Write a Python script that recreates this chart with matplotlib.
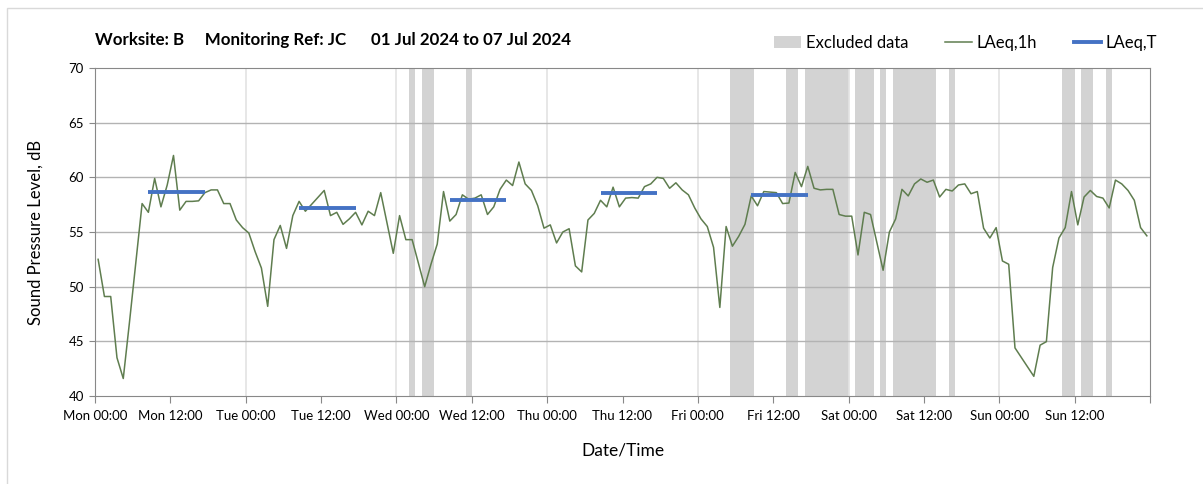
import matplotlib
matplotlib.use('Agg')
import matplotlib.pyplot as plt
from matplotlib.patches import Patch, Rectangle
from matplotlib.lines import Line2D

plt.rcParams['font.family'] = ['Lato', 'DejaVu Sans']

# hours from Mon 00:00, LAeq,1h values (dB)
hours = [0.5, 1.5, 2.5, 3.5, 4.5, 5.5, 7.5, 8.5, 9.5, 10.5, 11.5, 12.5, 13.5, 14.5, 15.5,
         16.5, 17.5, 18.5, 19.5, 20.5, 21.5, 22.5, 23.5, 24.5, 25.5, 26.5, 27.5, 28.5, 29.5,
         30.5, 31.5, 32.5, 33.5, 36.5, 37.5, 38.5, 39.5, 40.5, 41.5, 42.5, 43.5, 44.5, 45.5,
         47.5, 48.5, 49.5, 50.5, 52.5, 53.5, 54.5, 55.5, 56.5, 57.5, 58.5, 59.5, 60.5, 61.5,
         62.5, 63.5, 64.5, 65.5, 66.5, 67.5, 68.5, 69.5, 70.5, 71.5, 72.5, 73.5, 74.5, 75.5,
         76.5, 77.5, 78.5, 79.5, 80.5, 81.5, 82.5, 83.5, 84.5, 85.5, 86.5, 87.5, 88.5, 89.5,
         90.5, 91.5, 92.5, 93.5, 94.5, 95.5, 96.5, 97.5, 98.5, 99.5, 100.5, 101.5, 102.5,
         103.5, 104.5, 105.5, 106.5, 107.5, 108.5, 109.5, 110.5, 111.5, 112.5, 113.5, 114.5,
         115.5, 116.5, 117.5, 118.5, 119.5, 120.5, 121.5, 122.5, 123.5, 125.5, 126.5, 127.5,
         128.5, 129.5, 130.5, 131.5, 132.5, 133.5, 134.5, 135.5, 136.5, 137.5, 138.5, 139.5,
         140.5, 141.5, 142.5, 143.5, 144.5, 145.5, 146.5, 149.5, 150.5, 151.5, 152.5, 153.5,
         154.5, 155.5, 156.5, 157.5, 158.5, 159.5, 160.5, 161.5, 162.5, 163.5, 164.5, 165.5,
         166.5, 167.5]
laeq_1h = [52.5, 49.1, 49.1, 43.5, 41.6, 46.8, 57.6, 56.8, 59.9, 57.3, 59.3, 62.0, 57.0, 57.8, 57.8,
           57.85, 58.6, 58.85, 58.85, 57.6, 57.6, 56.1, 55.4, 54.9, 53.2, 51.7, 48.2, 54.3, 55.6,
           53.5, 56.5, 57.8, 56.9, 58.8, 56.5, 56.8, 55.7, 56.2, 56.8, 55.65, 56.9, 56.5, 58.6,
           53.05, 56.5, 54.3, 54.3, 50.0, 52.05, 53.9, 58.7, 56.0, 56.6, 58.4, 58.0, 58.1, 58.4,
           56.6, 57.3, 58.9, 59.75, 59.25, 61.4, 59.4, 58.8, 57.4, 55.35, 55.65, 54.0, 55.0, 55.3,
           51.9, 51.35, 56.1, 56.7, 57.9, 57.3, 59.1, 57.3, 58.1, 58.15, 58.1, 59.15, 59.4, 60.0,
           59.9, 59.0, 59.5, 58.85, 58.4, 57.2, 56.2, 55.5, 53.6, 48.1, 55.5, 53.7, 54.6,
           55.7, 58.3, 57.4, 58.7, 58.65, 58.6, 57.6, 57.65, 60.45, 59.15, 61.0, 59.0,
           58.85, 58.9, 58.9, 56.6, 56.45, 56.45, 52.9, 56.8, 56.6, 51.5, 55.0, 56.2,
           58.9, 58.3, 59.4, 59.85, 59.55, 59.75, 58.2, 58.9, 58.75, 59.3, 59.4, 58.5,
           58.7, 55.35, 54.45, 55.4, 52.35, 52.05, 44.4, 41.8, 44.65, 44.97, 51.75, 54.45,
           55.4, 58.7, 55.65, 58.2, 58.8, 58.25, 58.1, 57.2, 59.75, 59.4, 58.8, 57.9,
           55.4, 54.65]

# LAeq,T daytime periods (start hour, end hour, level)
period_start = [8.5, 32.5, 56.5, 80.5, 104.5]
period_end = [17.5, 41.5, 65.5, 89.5, 113.5]
laeq_t = [58.65, 57.2, 57.9, 58.6, 58.4]

# excluded data periods (hours)
excl_start = [50, 52, 59, 101, 110, 113, 121, 125, 127, 136, 154, 157, 161]
excl_end = [51, 54, 60, 105, 112, 120, 124, 126, 134, 137, 156, 159, 162]

tick_labels = ['Mon 00:00', 'Mon 12:00', 'Tue 00:00', 'Tue 12:00', 'Wed 00:00', 'Wed 12:00',
               'Thu 00:00', 'Thu 12:00', 'Fri 00:00', 'Fri 12:00', 'Sat 00:00', 'Sat 12:00',
               'Sun 00:00', 'Sun 12:00', '']

fig = plt.figure(figsize=(12.03, 4.84), dpi=100)
ax = fig.add_axes([95/1203, 1 - 396/484, (1150 - 95)/1203, (396 - 68)/484])

# outer frame
fig.patches.append(Rectangle((7/1203, -0.1), 1.2, 1 - 8/484 + 0.1, transform=fig.transFigure,
                             fill=False, edgecolor='#d9d9d9', linewidth=1))

for s, e in zip(excl_start, excl_end):
    ax.axvspan(s + 0.05, e, color='#d3d3d3', lw=0, zorder=0.2)

for y in range(45, 70, 5):
    ax.axhline(y, color='#b3b3b3', lw=1, zorder=0.6)
for d in range(24, 168, 24):
    ax.axvline(d, color='#e3e3e3', lw=1.2, zorder=0.5)

ax.plot(hours, laeq_1h, color='#5f7d4f', lw=1.1, zorder=2)
ax.hlines(laeq_t, period_start, period_end, color='#4472c4', lw=2.8, zorder=3)

ax.set_xlim(0, 168)
ax.set_ylim(40, 70)
ax.set_xticks(range(0, 169, 12))
ax.set_xticklabels(tick_labels, fontsize=9.5)
ax.set_yticks(range(40, 71, 5))
ax.tick_params(axis='y', labelsize=9.5, length=4, color='#888888', pad=4)
ax.tick_params(axis='x', length=5, color='#888888', pad=5)
for sp in ax.spines.values():
    sp.set_color('#888888')

ax.set_ylabel('Sound Pressure Level, dB', fontsize=12, labelpad=18)
ax.set_xlabel('Date/Time', fontsize=12.5, labelpad=15)

fig.text(95/1203, 1 - 40/484, 'Worksite: B     Monitoring Ref: JC      01 Jul 2024 to 07 Jul 2024',
         fontsize=12.2, fontweight='bold', va='center', ha='left')

handles = [Patch(facecolor='#d3d3d3', edgecolor='none'),
           Line2D([], [], color='#5f7d4f', lw=1.1),
           Line2D([], [], color='#4472c4', lw=2.8)]
fig.legend(handles, ['Excluded data', 'LAeq,1h', 'LAeq,T'], ncol=3, frameon=False,
           fontsize=12, loc='center right', bbox_to_anchor=(1172/1203, 1 - 43/484),
           handlelength=1.6, handletextpad=0.3, columnspacing=2.2)

fig.savefig('out.png', dpi=100)
